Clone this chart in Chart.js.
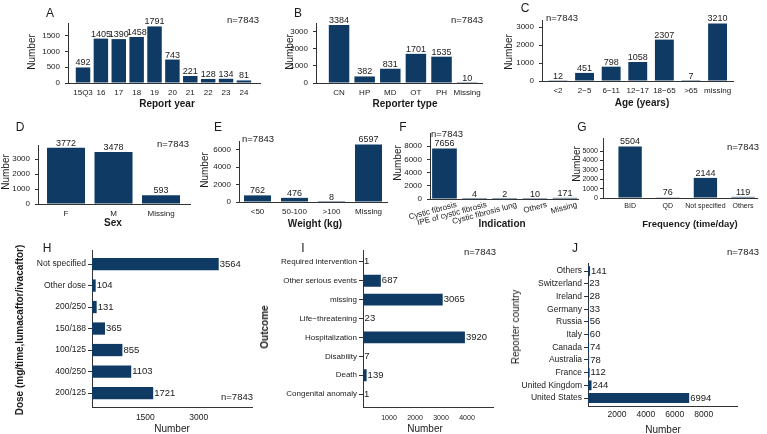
<!DOCTYPE html>
<html>
<head>
<meta charset="utf-8">
<script src="https://cdn.jsdelivr.net/npm/chart.js@4.4.1/dist/chart.umd.min.js"></script>
<style>
body { margin: 0; background: #fff; width: 767px; height: 434px; overflow: hidden; position: relative;
       font-family: "Liberation Sans", Arial, sans-serif; color: #1a1a1a; }
canvas { position: absolute; }
.t { position: absolute; white-space: nowrap; line-height: 1; transform: translate(-50%, -50%); }
.t.v { transform: translate(-50%, -50%) rotate(-90deg); }
</style>
</head>
<body>
<script>
// A: report year
const yearLabels = ['15Q3', '16', '17', '18', '19', '20', '21', '22', '23', '24'];
const yearCounts = [492, 1405, 1390, 1458, 1791, 743, 221, 128, 134, 81];
const yearTicks = [0, 500, 1000, 1500];
// B: reporter type
const reporterLabels = ['CN', 'HP', 'MD', 'OT', 'PH', 'Missing'];
const reporterCounts = [3384, 382, 831, 1701, 1535, 10];
const reporterTicks = [0, 1000, 2000, 3000];
// C: age
const ageLabels = ['<2', '2\u22125', '6\u221211', '12\u221217', '18\u221265', '>65', 'missing'];
const ageCounts = [12, 451, 798, 1058, 2307, 7, 3210];
const ageTicks = [0, 1000, 2000, 3000];
// D: sex
const sexLabels = ['F', 'M', 'Missing'];
const sexCounts = [3772, 3478, 593];
const sexTicks = [0, 1000, 2000, 3000];
// E: weight
const weightLabels = ['<50', '50-100', '>100', 'Missing'];
const weightCounts = [762, 476, 8, 6597];
const weightTicks = [0, 2000, 4000, 6000];
// F: indication
const indicationLabels = ['Cystic fibrosis', 'IPE of cystic fibrosis', 'Cystic fibrosis lung', 'Others', 'Missing'];
const indicationCounts = [7656, 4, 2, 10, 171];
const indicationTicks = [0, 2000, 4000, 6000, 8000];
// G: frequency
const freqLabels = ['BID', 'QD', 'Not specified', 'Others'];
const freqCounts = [5504, 76, 2144, 119];
const freqTicks = [0, 1000, 2000, 3000, 4000, 5000];
// H: dose (top to bottom)
const doseLabels = ['Not specified', 'Other dose', '200/250', '150/188', '100/125', '400/250', '200/125'];
const doseCounts = [3564, 104, 131, 365, 855, 1103, 1721];
const doseTicks = [1500, 3000];
// I: outcome (top to bottom)
const outcomeLabels = ['Required intervention', 'Other serious events', 'missing', 'Life\u2212threatening',
  'Hospitalization', 'Disability', 'Death', 'Congenital anomaly'];
const outcomeCounts = [1, 687, 3065, 23, 3920, 7, 139, 1];
const outcomeTicks = [1000, 2000, 3000, 4000];
// J: reporter country (top to bottom)
const countryLabels = ['Others', 'Switzerland', 'Ireland', 'Germany', 'Russia', 'Italy', 'Canada',
  'Australia', 'France', 'United Kingdom', 'United States'];
const countryCounts = [141, 23, 28, 33, 56, 60, 74, 78, 112, 244, 6994];
const countryTicks = [2000, 4000, 6000, 8000];

const NAVY = '#0e3a64';
const INK = '#1a1a1a';
const AXIS = '#333';
const FONT = '"Liberation Sans", Arial, sans-serif';

function valueLabels(values, size) {
  return {
    id: 'valueLabels',
    afterDatasetsDraw(chart) {
      const ctx = chart.ctx;
      const horiz = chart.options.indexAxis === 'y';
      ctx.save();
      ctx.font = size + 'px ' + FONT;
      ctx.fillStyle = INK;
      chart.getDatasetMeta(0).data.forEach((bar, i) => {
        if (horiz) {
          ctx.textAlign = 'left'; ctx.textBaseline = 'middle';
          ctx.fillText(values[i], bar.x + 1, bar.y);
        } else {
          ctx.textAlign = 'center'; ctx.textBaseline = 'bottom';
          ctx.fillText(values[i], bar.x, bar.y);
        }
      });
      ctx.restore();
    }
  };
}

function makePanel(p) {
  const [L, T, R, B] = p.box;
  const [ml, mt, mr, mb] = p.margin;
  const horiz = !!p.horizontal;
  const cv = document.createElement('canvas');
  cv.width = R - L + ml + mr;
  cv.height = B - T + mt + mb;
  cv.style.left = (L - ml) + 'px';
  cv.style.top = (T - mt) + 'px';
  document.body.appendChild(cv);

  const indexScale = {
    type: 'linear', bounds: 'data', offset: false, min: p.range[0], max: p.range[1], reverse: horiz,
    afterBuildTicks: s => { s.ticks = p.labels.map((_, i) => ({ value: i })); },
    afterFit: s => { if (horiz) s.width = ml; else s.height = mb; },
    ticks: {
      autoSkip: false, minRotation: p.rot || 0, maxRotation: p.rot || 0,
      padding: p.catPad, labelOffset: p.labelOffset || 0, color: INK,
      font: { family: FONT, size: p.catFont },
      callback: v => p.labels[v]
    },
    grid: { display: true, offset: false, drawOnChartArea: false, drawTicks: horiz, tickLength: 4, color: AXIS },
    border: { display: true, color: AXIS, width: 1 }
  };
  const valueScale = {
    type: 'linear', bounds: 'data', min: 0, max: p.max,
    afterBuildTicks: s => { s.ticks = p.ticks.map(v => ({ value: v })); },
    afterFit: s => { if (horiz) s.height = mb; else s.width = ml; },
    ticks: { padding: p.valPad, color: INK, font: { family: FONT, size: p.valFont }, callback: v => String(v) },
    grid: { display: true, drawOnChartArea: false, drawTicks: !horiz, tickLength: 3, color: AXIS },
    border: { display: true, color: AXIS, width: 1 }
  };

  new Chart(cv, {
    type: 'bar',
    data: {
      datasets: [{
        data: p.values.map((v, i) => horiz ? { x: v, y: i } : { x: i, y: v }),
        backgroundColor: NAVY,
        categoryPercentage: 1,
        barPercentage: p.bar
      }]
    },
    options: {
      responsive: false,
      animation: false,
      indexAxis: horiz ? 'y' : 'x',
      layout: { autoPadding: false, padding: { left: 0, top: mt, right: mr, bottom: 0 } },
      plugins: { legend: { display: false }, tooltip: { enabled: false } },
      scales: horiz ? { x: valueScale, y: indexScale } : { x: indexScale, y: valueScale }
    },
    plugins: [valueLabels(p.values, p.labelSize)]
  });
}

const colDefaults = { margin: [40, 14, 8, 20], catFont: 8, valFont: 8, catPad: 5, valPad: 5, labelSize: 9 };

makePanel({ ...colDefaults, box: [68, 23, 260, 83], labels: yearLabels, values: yearCounts, ticks: yearTicks,
  range: [-0.84, 9.9], max: 1900, bar: 0.81 });
makePanel({ ...colDefaults, box: [316, 23, 482, 83], labels: reporterLabels, values: reporterCounts, ticks: reporterTicks,
  range: [-0.9, 5.58], max: 3500, bar: 0.8 });
makePanel({ ...colDefaults, box: [542, 20, 733, 81], labels: ageLabels, values: ageCounts, ticks: ageTicks,
  range: [-0.6, 6.58], max: 3400, bar: 0.71 });
makePanel({ ...colDefaults, margin: [36, 14, 8, 20], box: [38, 145, 190, 204], labels: sexLabels, values: sexCounts,
  ticks: sexTicks, range: [-0.59, 2.61], max: 3950, bar: 0.8 });
makePanel({ ...colDefaults, box: [239, 141, 387, 202], labels: weightLabels, values: weightCounts, ticks: weightTicks,
  range: [-0.5, 3.5], max: 7000, bar: 0.73 });
makePanel({ ...colDefaults, margin: [50, 14, 8, 40], box: [430, 133, 578, 199], labels: indicationLabels,
  values: indicationCounts, ticks: indicationTicks, range: [-0.48, 4.43], max: 10000, bar: 0.82,
  rot: 15, labelOffset: 12, catPad: 1 });
makePanel({ ...colDefaults, margin: [40, 14, 8, 20], box: [603, 138, 757, 198], labels: freqLabels, values: freqCounts,
  ticks: freqTicks, range: [-0.72, 3.37], max: 6400, bar: 0.62, catFont: 7, valFont: 7, catPad: 4, valPad: 2 });

const rowDefaults = { horizontal: true, catFont: 8.5, valFont: 8.5, catPad: 2, valPad: 6, labelSize: 9.5 };

makePanel({ ...rowDefaults, margin: [90, 6, 20, 18], box: [92, 249, 252, 407], labels: doseLabels, values: doseCounts,
  ticks: doseTicks, range: [-0.65, 6.65], max: 4500, bar: 0.57 });
makePanel({ ...rowDefaults, margin: [100, 6, 20, 18], box: [363, 250, 493, 407], labels: outcomeLabels,
  values: outcomeCounts, ticks: outcomeTicks, range: [-0.58, 7.68], max: 5000, bar: 0.63,
  catFont: 8, valFont: 7, valPad: 7 });
makePanel({ ...rowDefaults, margin: [80, 6, 20, 18], box: [588, 262, 737, 406], labels: countryLabels,
  values: countryCounts, ticks: countryTicks, range: [-0.63, 10.63], max: 10300, bar: 0.78, valPad: 4 });

// free text: [text, x, y, size, bold, vertical]
const texts = [
  ['A', 50, 13, 12], ['n=7843', 243, 20, 9.5], ['Number', 32, 52, 10, 0, 1], ['Report year', 167, 104, 10, 1],
  ['B', 298, 13, 12], ['n=7843', 467, 20, 9.5], ['Number', 290, 52, 10, 0, 1], ['Reporter type', 405, 104, 10, 1],
  ['C', 525, 8, 12], ['n=7843', 562, 18, 9.5], ['Number', 509, 52, 10, 0, 1], ['Age (years)', 642, 103, 10, 1],
  ['D', 20, 127, 12], ['n=7843', 173, 144, 9.5], ['Number', 6, 172, 10, 0, 1], ['Sex', 113, 223, 10, 1],
  ['E', 218, 127, 12], ['n=7843', 258, 139, 9.5], ['Number', 205, 170, 10, 0, 1], ['Weight (kg)', 315, 224, 10, 1],
  ['F', 403, 127, 12], ['n=7843', 447, 134, 9.5], ['Number', 398, 163, 10, 0, 1], ['Indication', 502, 224, 10, 1],
  ['G', 582, 127, 12], ['n=7843', 743, 147, 9.5], ['Number', 577, 164, 10, 0, 1], ['Frequency (time/day)', 690, 224, 9.5, 1],
  ['H', 47, 248, 12], ['n=7843', 237, 397, 9.5], ['Dose (mg/time,lumacaftor/ivacaftor)', 20, 330, 10, 1, 1], ['Number', 172, 429, 10],
  ['I', 303, 248, 12], ['n=7843', 480, 252, 9.5], ['Outcome', 265, 327, 10, 1, 1], ['Number', 425, 429, 10],
  ['J', 575, 248, 12], ['n=7843', 743, 252, 9.5], ['Reporter country', 516, 327, 10, 0, 1], ['Number', 663, 430, 10]
];
texts.forEach(([s, x, y, size, bold, vert]) => {
  const d = document.createElement('div');
  d.className = 't' + (vert ? ' v' : '');
  d.textContent = s;
  d.style.left = x + 'px';
  d.style.top = y + 'px';
  d.style.fontSize = size + 'px';
  if (bold) d.style.fontWeight = 'bold';
  document.body.appendChild(d);
});
</script>
</body>
</html>
